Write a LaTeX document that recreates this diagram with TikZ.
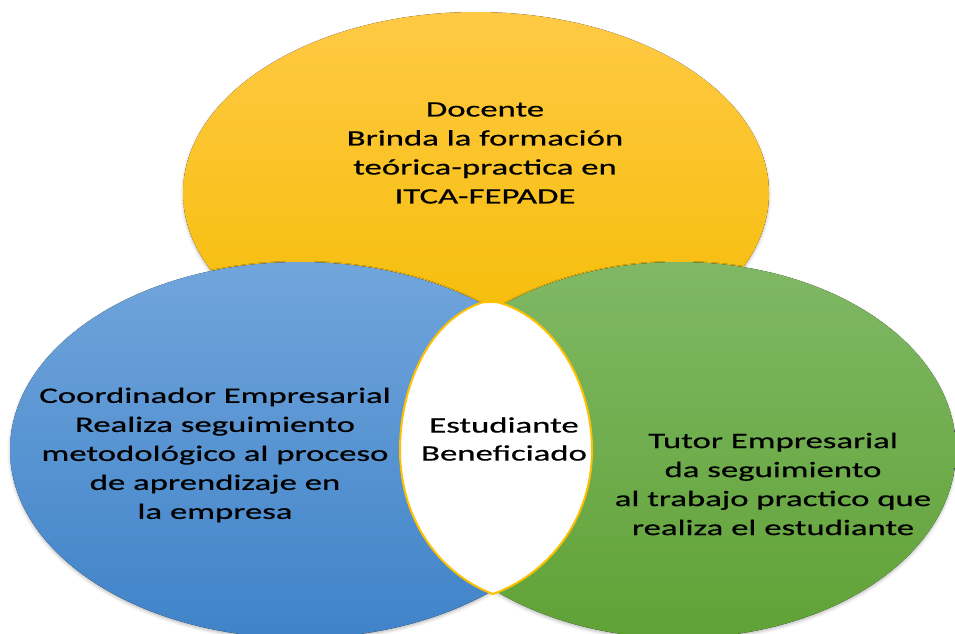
\documentclass[tikz,border=0pt]{standalone}
\usepackage{fontspec}
\setmainfont{Carlito}[FakeStretch=1.58,FakeBold=0.6]
\usetikzlibrary{shadows.blur}

\definecolor{amarilloA}{HTML}{FFC945}
\definecolor{amarilloB}{HTML}{F4BC00}
\definecolor{azulA}{HTML}{71A5DC}
\definecolor{azulB}{HTML}{3F83C8}
\definecolor{verdeA}{HTML}{80B865}
\definecolor{verdeB}{HTML}{60A236}
\definecolor{borde}{HTML}{FFC000}

\begin{document}
\begin{tikzpicture}[x=1pt,y=-1pt,
    sombra/.style={blur shadow={shadow xshift=0pt,shadow yshift=-2pt,
                   shadow blur radius=3pt,shadow opacity=25}},
    texto/.style={align=center,font=\fontsize{22}{29}\selectfont,text=black}]
  \useasboundingbox (0,0) rectangle (955,633);

  % circulos
  \fill[sombra,top color=amarilloA,bottom color=amarilloB]
    (476,193) ellipse [x radius=293pt,y radius=181pt];
  \fill[sombra,top color=azulA,bottom color=azulB]
    (300,450) ellipse [x radius=290pt,y radius=188pt];
  \fill[sombra,top color=verdeA,bottom color=verdeB]
    (679,450) ellipse [x radius=277pt,y radius=188pt];

  % centro
  \filldraw[fill=white,draw=borde,line width=2pt]
    (484,302) .. controls (430,318) and (400,385) .. (400,450)
              .. controls (400,522) and (442,575) .. (493,594)
              .. controls (546,575) and (592,522) .. (592,450)
              .. controls (592,385) and (556,318) .. (497,302) -- cycle;

  \node[texto] (docente) at (485,153)
    {Docente\\Brinda la formación\\teórica-practica en\\ITCA-FEPADE};
  \node[texto] (coordinador) at (215,455)
    {Coordinador Empresarial\\Realiza seguimiento\\metodológico al proceso\\de aprendizaje en\\la empresa};
  \node[texto,font=\fontsize{22}{28}\selectfont] (estudiante) at (504,439)
    {Estudiante\\Beneficiado};
  \node[texto] (tutor) at (773,484)
    {Tutor Empresarial\\da seguimiento\\al trabajo practico que\\realiza el estudiante};
\end{tikzpicture}
\end{document}
